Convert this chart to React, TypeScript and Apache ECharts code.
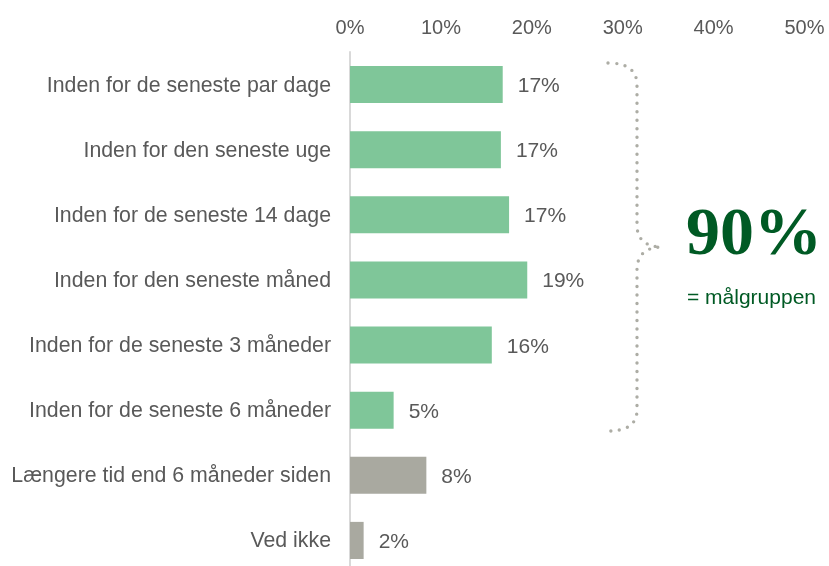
import React, { useEffect, useRef } from "react";
import * as echarts from "echarts";

const categories = [
  "Inden for de seneste par dage",
  "Inden for den seneste uge",
  "Inden for de seneste 14 dage",
  "Inden for den seneste måned",
  "Inden for de seneste 3 måneder",
  "Inden for de seneste 6 måneder",
  "Længere tid end 6 måneder siden",
  "Ved ikke",
];
const values = [16.8, 16.6, 17.5, 19.5, 15.6, 4.8, 8.4, 1.5];
const valueLabels = ["17%", "17%", "17%", "19%", "16%", "5%", "8%", "2%"];
const inTarget = [true, true, true, true, true, true, false, false];
const tickValues = [0, 10, 20, 30, 40, 50];
const totalLabel = "90%";
const totalCaption = "= målgruppen";

const GREEN = "#7FC699";
const GRAY = "#A9A9A0";
const TEXT = "#595959";
const DARK_GREEN = "#005A24";

echarts.graphic.registerShape(
  "brace",
  (echarts.graphic as any).extendPath(
    "M608,63 Q637,63 637,85 L637,225 Q637,246 661,247 Q637,248 637,270 L637,410 Q637,431 608,431",
    {}
  )
);

export default function App() {
  const ref = useRef<HTMLDivElement>(null);
  useEffect(() => {
    if (!ref.current) return;
    const chart = echarts.init(ref.current, undefined, { renderer: "svg" });
    chart.setOption({
      animation: false,
      textStyle: { fontFamily: "Liberation Sans, Arial, sans-serif" },
      grid: { left: 350, top: 52, width: 454.5, height: 521, containLabel: false },
      xAxis: {
        type: "value",
        position: "top",
        min: tickValues[0],
        max: tickValues[tickValues.length - 1],
        interval: 10,
        axisLine: { show: false },
        axisTick: { show: false },
        splitLine: { show: false },
        axisLabel: {
          formatter: (v: number) => `${v}%`,
          color: TEXT,
          fontSize: 20,
          margin: 15,
        },
      },
      yAxis: {
        type: "category",
        data: categories,
        inverse: true,
        axisLine: { show: true, lineStyle: { color: "#D9D9D9", width: 2 } },
        axisTick: { show: false },
        axisLabel: { color: TEXT, fontSize: 21.3, margin: 19 },
      },
      series: [
        {
          type: "bar",
          barCategoryGap: "43%",
          data: values.map((v, i) => ({
            value: v,
            itemStyle: { color: inTarget[i] ? GREEN : GRAY },
          })),
          label: {
            show: true,
            position: "right",
            distance: 15,
            color: TEXT,
            fontSize: 21,
            formatter: (p: any) => valueLabels[p.dataIndex],
          },
        },
      ],
      graphic: [
        {
          type: "brace",
          x: 0,
          y: 0,
          style: {
            fill: "none",
            stroke: "#ADADA5",
            lineWidth: 3.4,
            lineDash: [0, 8.5],
            lineCap: "round",
          },
        } as any,
        {
          type: "text",
          left: 686,
          top: 197,
          style: {
            text: totalLabel,
            font: "bold 68px 'Liberation Serif', 'Times New Roman', serif",
            fill: DARK_GREEN,
          },
        },
        {
          type: "text",
          left: 687,
          top: 286,
          style: {
            text: totalCaption,
            font: "21px 'Liberation Sans', Arial, sans-serif",
            fill: DARK_GREEN,
          },
        },
      ],
    });
    return () => chart.dispose();
  }, []);
  return (
    <div
      ref={ref}
      style={{ position: "fixed", left: 0, top: 0, width: 829, height: 580 }}
    />
  );
}
